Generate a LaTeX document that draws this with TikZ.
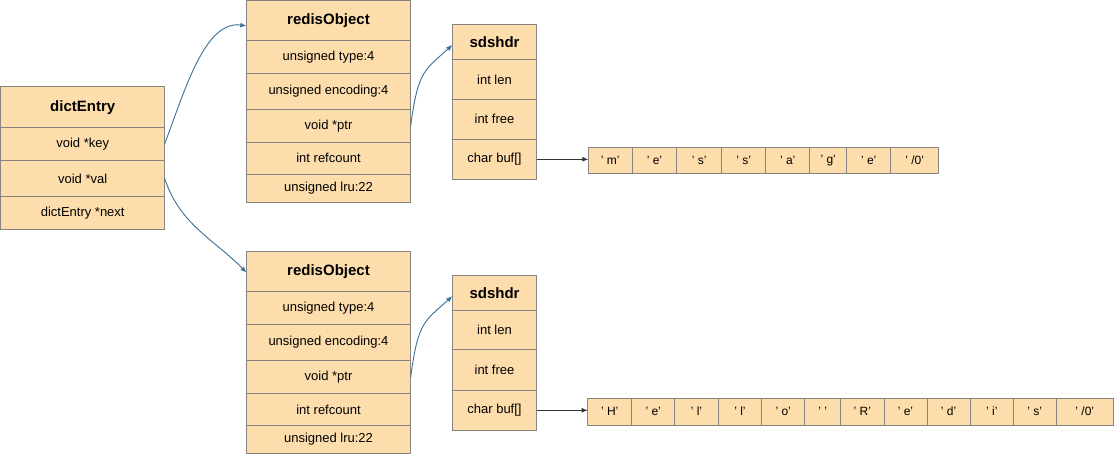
\documentclass[tikz,border=0pt]{standalone}
\usepackage{fontspec}
\setmainfont{Liberation Sans}
\usetikzlibrary{arrows.meta}
\definecolor{peach}{HTML}{FDDDAB}
\definecolor{edge}{HTML}{888480}
\definecolor{link}{HTML}{3A6F97}
\tikzset{
  cell/.style={draw=edge, fill=peach, line width=1pt, inner sep=0pt, outer sep=0pt, font=\fontsize{13}{15}\selectfont},
  head/.style={cell, font=\bfseries\fontsize{15}{17}\selectfont},
  chr/.style={cell, font=\fontsize{12}{14}\selectfont},
  ptrline/.style={draw=link, line width=0.9pt, -{Latex[length=6pt,width=5pt]}},
  bufline/.style={draw=black!80, line width=0.9pt, -{Latex[length=6pt,width=5pt]}}
}
\newcommand\mycell[7]{\node[#1, minimum width={(#5-#3)*1pt}, minimum height={(#6-#4)*1pt}] (#2) at ({(#3+#5)/2},{(#4+#6)/2}) {#7};}
\begin{document}
\begin{tikzpicture}[x=1pt,y=-1pt]
\useasboundingbox (0,0) rectangle (1114,454);
% dictEntry
\mycell{head}{de}{0.7}{87}{164.7}{127.3}{dictEntry}
\mycell{cell}{dekey}{0.7}{127.3}{164.7}{160.3}{void *key}
\mycell{cell}{deval}{0.7}{160.3}{164.7}{196.7}{void *val}
\mycell{cell}{denext}{0.7}{196.7}{164.7}{229.3}{dictEntry *next}
% top redisObject
\mycell{head}{roA}{246.3}{1}{410.7}{40.7}{redisObject}
\mycell{cell}{roAtype}{246.3}{40.7}{410.7}{73.3}{unsigned type:4}
\mycell{cell}{roAenc}{246.3}{73.3}{410.7}{109.3}{unsigned encoding:4}
\mycell{cell}{roAptr}{246.3}{109.3}{410.7}{142.3}{void *ptr}
\mycell{cell}{roAref}{246.3}{142.3}{410.7}{174.3}{int refcount}
\mycell{cell}{roAlru}{246.3}{174.3}{410.7}{202.3}{unsigned lru:22}
% top sdshdr
\mycell{head}{sdA}{452.3}{24.3}{536.7}{59.7}{sdshdr}
\mycell{cell}{sdAlen}{452.3}{59.7}{536.7}{99.3}{int len}
\mycell{cell}{sdAfree}{452.3}{99.3}{536.7}{139.3}{int free}
\mycell{cell}{sdAbuf}{452.3}{139.3}{536.7}{179.3}{char buf[]}
% top array
\mycell{chr}{a1}{588.3}{147.3}{632.3}{174}{’ m’}
\mycell{chr}{a2}{632.3}{147.3}{676.7}{174}{’ e’}
\mycell{chr}{a3}{676.7}{147.3}{721.7}{174}{’ s’}
\mycell{chr}{a4}{721.7}{147.3}{765.7}{174}{’ s’}
\mycell{chr}{a5}{765.7}{147.3}{809.7}{174}{’ a’}
\mycell{chr}{a6}{809.7}{147.3}{846.7}{174}{’ g’}
\mycell{chr}{a7}{846.7}{147.3}{890.7}{174}{’ e’}
\mycell{chr}{a8}{890.7}{147.3}{938.7}{174}{’ /0’}
% bottom redisObject
\mycell{head}{roB}{246.3}{251.3}{410.7}{291.7}{redisObject}
\mycell{cell}{roBtype}{246.3}{291.7}{410.7}{324.7}{unsigned type:4}
\mycell{cell}{roBenc}{246.3}{324.7}{410.7}{360.3}{unsigned encoding:4}
\mycell{cell}{roBptr}{246.3}{360.3}{410.7}{393.7}{void *ptr}
\mycell{cell}{roBref}{246.3}{393.7}{410.7}{425.3}{int refcount}
\mycell{cell}{roBlru}{246.3}{425.3}{410.7}{453.3}{unsigned lru:22}
% bottom sdshdr
\mycell{head}{sdB}{452.3}{275.7}{536.7}{310.7}{sdshdr}
\mycell{cell}{sdBlen}{452.3}{310.7}{536.7}{350}{int len}
\mycell{cell}{sdBfree}{452.3}{350}{536.7}{390.3}{int free}
\mycell{cell}{sdBbuf}{452.3}{390.3}{536.7}{430.3}{char buf[]}
% bottom array
\mycell{chr}{b1}{587.7}{398.3}{631.7}{425}{’ H’}
\mycell{chr}{b2}{631.7}{398.3}{674.7}{425}{’ e’}
\mycell{chr}{b3}{674.7}{398.3}{718.3}{425}{’ l’}
\mycell{chr}{b4}{718.3}{398.3}{761.7}{425}{’ l’}
\mycell{chr}{b5}{761.7}{398.3}{804.7}{425}{’ o’}
\mycell{chr}{b6}{804.7}{398.3}{840.7}{425}{’ ’}
\mycell{chr}{b7}{840.7}{398.3}{884}{425}{’ R’}
\mycell{chr}{b8}{884}{398.3}{927}{425}{’ e’}
\mycell{chr}{b9}{927}{398.3}{970.3}{425}{’ d’}
\mycell{chr}{b10}{970.3}{398.3}{1013.3}{425}{’ i’}
\mycell{chr}{b11}{1013.3}{398.3}{1056.3}{425}{’ s’}
\mycell{chr}{b12}{1056.3}{398.3}{1113.3}{425}{’ /0’}
% connectors
\draw[ptrline] (dekey.east) .. controls (185,90) and (205,20) .. ([yshift=-5]roA.west);
\draw[ptrline] (deval.east) .. controls (180,225) and (215,240) .. ([yshift=-1]roB.west);
\draw[ptrline] (roAptr.east) .. controls (418,70) and (425,70) .. ([yshift=-3]sdA.west);
\draw[ptrline] (roBptr.east) .. controls (418,321) and (425,321) .. ([yshift=-3]sdB.west);
\draw[bufline] (sdAbuf.east) -- (a1.west |- sdAbuf.east);
\draw[bufline] (sdBbuf.east) -- (b1.west |- sdBbuf.east);
\end{tikzpicture}
\end{document}
